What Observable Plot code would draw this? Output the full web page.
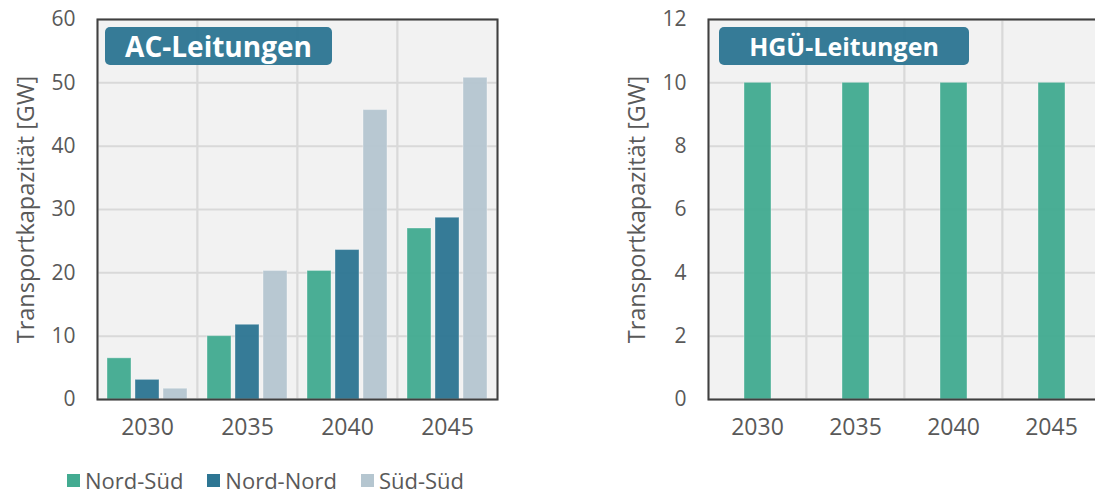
<!DOCTYPE html>
<html>
<head>
<meta charset="utf-8">
<script src="https://cdn.jsdelivr.net/npm/d3@7"></script>
<script src="https://cdn.jsdelivr.net/npm/@observablehq/plot@0.6"></script>
<style>
  html, body { margin: 0; padding: 0; background: #fff; overflow: hidden; width: 1095px; height: 498px; }
  #root { position: relative; width: 1095px; height: 498px; overflow: hidden; font-family: "Open Sans", sans-serif; }
  .panel { position: absolute; top: 0; }
  .title { position: absolute; top: 27px; height: 38px; background: rgba(46,118,147,0.96); border-radius: 5px;
           color: #fff; font-weight: 700; display: flex; align-items: center; justify-content: center;
           box-sizing: border-box; }
  .legend { position: absolute; top: 465px; left: 67px; display: flex; align-items: center; color: #595959; font-size: 22px; }
  .legend .item { display: flex; align-items: center; margin-right: 24px; }
  .legend .sw { width: 13px; height: 13px; margin-right: 5px; }
</style>
</head>
<body>
<div id="root"></div>
<script>
// ---- data ----
const years = ["2030", "2035", "2040", "2045"];
const series = ["Nord-Süd", "Nord-Nord", "Süd-Süd"];
const acNordSued = [6.5, 10.0, 20.3, 27.0];
const acNordNord = [3.1, 11.8, 23.6, 28.7];
const acSuedSued = [1.7, 20.3, 45.7, 50.8];
const hgueNordSued = [10, 10, 10, 10];
const seriesColors = ["#43ab91", "#2e7693", "#b5c6d0"];
const yTicksAC = [0, 10, 20, 30, 40, 50, 60];
const yTicksHGUE = [0, 2, 4, 6, 8, 10, 12];
const titles = ["AC-Leitungen", "HGÜ-Leitungen"];
const yLabel = "Transportkapazität [GW]";

// ---- tables ----
const acSeriesValues = [acNordSued, acNordNord, acSuedSued];
const acData = years.flatMap((year, i) => series.map((s, j) => ({year, series: s, value: acSeriesValues[j][i]})));
const hgueData = years.map((year, i) => ({year, series: series[0], value: hgueNordSued[i]}));

const root = document.getElementById("root");

function makePanel({data, seriesDomain, yTicks, width, marginRight, padInner, padOuter}) {
  return Plot.plot({
    width, height: 455,
    marginLeft: 97, marginRight, marginTop: 19, marginBottom: 56,
    style: {fontFamily: "Open Sans, sans-serif", fontSize: "22px", color: "#595959", background: "transparent", overflow: "visible"},
    fx: {domain: years, padding: 0, label: null},
    x: {domain: seriesDomain, paddingInner: padInner, paddingOuter: padOuter, axis: null},
    y: {domain: [yTicks[0], yTicks[yTicks.length - 1]]},
    color: {domain: series, range: seriesColors},
    marks: [
      Plot.frame({fill: "#f2f2f2", stroke: "#d9d9d9", strokeWidth: 2}),
      Plot.ruleY(yTicks, {stroke: "#d9d9d9", strokeWidth: 2}),
      Plot.barY(data, {fx: "year", x: "series", y: "value", fill: "series", fillOpacity: 0.96,
                       stroke: "#ffffff", strokeOpacity: 0.35, strokeWidth: 1}),
      Plot.frame({stroke: "#404040", strokeWidth: 2, facet: "super"}),
      Plot.axisY(yTicks, {tickSize: 0, tickPadding: 22, fontSize: 21, fill: "#595959", label: null}),
      Plot.text([yLabel], {frameAnchor: "left", textAnchor: "middle", rotate: -90, dx: -71, fontSize: 23.5,
                           fill: "#595959", facetAnchor: "left"}),
      Plot.axisFx({anchor: "bottom", tickSize: 0, tickPadding: 19, fontSize: 23, fill: "#595959", label: null})
    ]
  });
}

const left = makePanel({data: acData, seriesDomain: series, yTicks: yTicksAC, width: 520, marginRight: 23, padInner: 0.14, padOuter: 0.32});
left.classList.add("panel");
left.style.left = "0px";
root.appendChild(left);

const right = makePanel({data: hgueData, seriesDomain: [series[0]], yTicks: yTicksHGUE, width: 510, marginRight: 18, padInner: 0, padOuter: 1.26});
right.classList.add("panel");
right.style.left = "609px";
root.appendChild(right);

// titles
const t1 = document.createElement("div");
t1.className = "title"; t1.textContent = titles[0];
t1.style.left = "105px"; t1.style.width = "227px"; t1.style.fontSize = "28px";
root.appendChild(t1);
const t2 = document.createElement("div");
t2.className = "title"; t2.textContent = titles[1];
t2.style.left = "719px"; t2.style.width = "250px"; t2.style.fontSize = "25px";
root.appendChild(t2);

// legend
const legend = document.createElement("div");
legend.className = "legend";
series.forEach((s, i) => {
  const item = document.createElement("div"); item.className = "item";
  const sw = document.createElement("div"); sw.className = "sw"; sw.style.background = seriesColors[i];
  const tx = document.createElement("span"); tx.textContent = s;
  item.appendChild(sw); item.appendChild(tx);
  legend.appendChild(item);
});
root.appendChild(legend);
</script>
</body>
</html>
